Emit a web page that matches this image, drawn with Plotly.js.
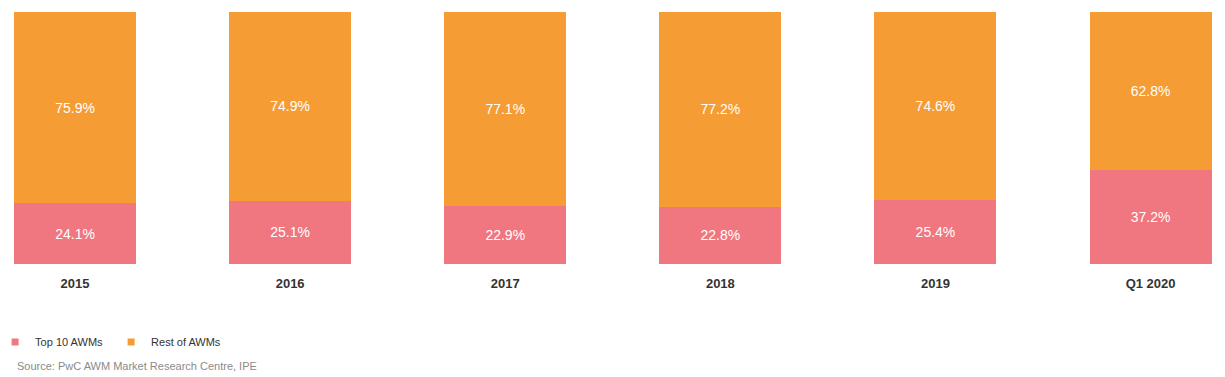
<!DOCTYPE html>
<html>
<head>
<meta charset="utf-8">
<script src="https://cdn.plot.ly/plotly-3.0.1.min.js"></script>
<style>html,body{margin:0;padding:0;background:#fff}#chart{width:1225px;height:377px}</style>
</head>
<body>
<div id="chart"></div>
<script>
const categories = ['2015', '2016', '2017', '2018', '2019', 'Q1 2020'];
const top10Values = [24.1, 25.1, 22.9, 22.8, 25.4, 37.2];
const restValues = [75.9, 74.9, 77.1, 77.2, 74.6, 62.8];
const seriesNames = ['Top 10 AWMs', 'Rest of AWMs'];
const sourceText = 'Source: PwC AWM Market Research Centre, IPE';

const FONT = 'Liberation Sans, Arial, Helvetica, sans-serif';
const PINK = '#F07680';
const ORANGE = '#F69C34';
const COLORS = [PINK, ORANGE];
const VALUES = [top10Values, restValues];

const traces = [];
VALUES.forEach((vals, i) => {
  traces.push({
    type: 'bar', name: seriesNames[i], x: categories, y: vals,
    legendgroup: 'g' + i, showlegend: false,
    marker: {color: COLORS[i]},
    texttemplate: '%{y:.1f}%', textposition: 'inside', insidetextanchor: 'middle',
    textfont: {color: '#ffffff', size: 14, family: FONT},
    hoverinfo: 'skip'
  });
});
// legend entries with small square swatches (no drawn points)
VALUES.forEach((vals, i) => {
  traces.push({
    type: 'scatter', mode: 'markers', name: seriesNames[i],
    x: [null], y: [null], legendgroup: 'g' + i, showlegend: true,
    marker: {symbol: 'square', size: 7, color: COLORS[i]},
    hoverinfo: 'skip'
  });
});

const layout = {
  width: 1225, height: 377,
  margin: {l: 0, r: 0, t: 12, b: 113, pad: 0, autoexpand: false},
  paper_bgcolor: '#ffffff', plot_bgcolor: '#ffffff',
  barmode: 'stack', bargap: 0.433,
  font: {family: FONT, color: '#333333'},
  xaxis: {
    type: 'category', range: [-0.3487, 5.346], automargin: false,
    showgrid: false, zeroline: false, showline: false, ticks: '',
    ticklabelstandoff: 10,
    tickfont: {family: 'Liberation Sans, Arial, sans-serif', size: 13, color: '#333333', weight: 'bold'},
    fixedrange: true
  },
  yaxis: {
    range: [0, 100], visible: false, showgrid: false, zeroline: false, fixedrange: true
  },
  showlegend: true,
  legend: {
    orientation: 'h', x: -0.004, xanchor: 'left', y: -0.31, yanchor: 'middle',
    font: {family: FONT, size: 11, color: '#333333'},
    traceorder: 'normal', entrywidth: 71, entrywidthmode: 'pixels',
    itemclick: false, itemdoubleclick: false
  },
  annotations: [
    {
      text: sourceText, xref: 'paper', yref: 'paper', x: 0.0122, y: -0.405,
      xanchor: 'left', yanchor: 'middle', showarrow: false,
      font: {family: FONT, size: 11, color: '#8a8a8a'}
    }
  ]
};

Plotly.newPlot('chart', traces, layout, {displayModeBar: false, staticPlot: true});
</script>
</body>
</html>
